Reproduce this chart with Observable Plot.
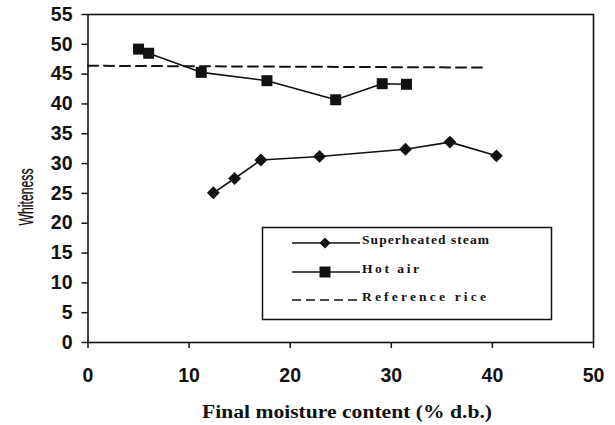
<!DOCTYPE html>
<html><head><meta charset="utf-8">
<script src="https://cdn.jsdelivr.net/npm/d3@7"></script>
<script src="https://cdn.jsdelivr.net/npm/@observablehq/plot@0.6"></script>
<style>
body{margin:0;background:#fff;}
#wrap{position:relative;width:615px;height:425px;}
</style></head><body><div id="wrap"></div>
<script>
// Data
const steamX = [12.4, 14.5, 17.1, 22.9, 31.4, 35.8, 40.4];
const steamY = [25.1, 27.5, 30.6, 31.2, 32.4, 33.6, 31.3];
const airX = [5.0, 6.0, 11.2, 17.7, 24.5, 29.1, 31.5];
const airY = [49.2, 48.5, 45.3, 43.9, 40.7, 43.4, 43.3];
const refX = [0, 39.5];
const refY = [46.4, 46.1];
const xTicks = [0, 10, 20, 30, 40, 50];
const yTicks = [0, 5, 10, 15, 20, 25, 30, 35, 40, 45, 50, 55];
const seriesNames = ["Superheated steam", "Hot air", "Reference rice"];
const xLabel = "Final moisture content (% d.b.)";
const yLabel = "Whiteness";

const steam = steamX.map((x, i) => ({x, y: steamY[i]}));
const air = airX.map((x, i) => ({x, y: airY[i]}));
const ref = refX.map((x, i) => ({x, y: refY[i]}));

const ink = "#111";
const plot = Plot.plot({
  width: 615, height: 425,
  marginLeft: 87.5, marginRight: 22, marginTop: 14, marginBottom: 83,
  x: {domain: [0, 50]},
  y: {domain: [0, 55]},
  style: {fontFamily: "'Liberation Sans', Arial, sans-serif", background: "#fff", color: ink, overflow: "visible"},
  marks: [
    Plot.frame({stroke: ink, strokeWidth: 1.6}),
    Plot.axisX({ticks: xTicks, tickSize: 6, tickPadding: 20, fontSize: 19.5, fontWeight: "bold", label: null, strokeWidth: 1.5}),
    Plot.axisY({ticks: yTicks, tickSize: 6, tickPadding: 9.5, fontSize: 19.5, fontWeight: "bold", label: null, strokeWidth: 1.5}),
    Plot.line(ref, {x: "x", y: "y", stroke: ink, strokeWidth: 2, strokeDasharray: "10,6"}),
    Plot.line(steam, {x: "x", y: "y", stroke: ink, strokeWidth: 1.6}),
    Plot.dot(steam, {x: "x", y: "y", symbol: "diamond2", r: 5.8, fill: ink, stroke: "none"}),
    Plot.line(air, {x: "x", y: "y", stroke: ink, strokeWidth: 1.6}),
    Plot.dot(air, {x: "x", y: "y", symbol: "square", r: 6.2, fill: ink, stroke: "none"})
  ]
});
document.getElementById("wrap").appendChild(plot);

const svg = d3.select(plot);
// Axis titles
svg.append("text").text(yLabel)
  .attr("transform", "translate(32.5,197) rotate(-90)")
  .attr("text-anchor", "middle")
  .attr("font-family", "'Liberation Sans', Arial, sans-serif")
  .attr("font-size", 20).attr("textLength", 57).attr("lengthAdjust", "spacingAndGlyphs")
  .attr("stroke", ink).attr("stroke-width", 0.3)
  .attr("fill", ink);
svg.append("text").text(xLabel)
  .attr("x", 202).attr("y", 418)
  .attr("text-anchor", "start")
  .attr("font-family", "'Liberation Serif', 'Times New Roman', serif")
  .attr("font-weight", "bold").attr("font-size", 18.5)
  .attr("textLength", 290).attr("lengthAdjust", "spacingAndGlyphs")
  .attr("fill", ink);

// Legend
const lg = svg.append("g").attr("class", "legend");
lg.append("rect").attr("x", 262.5).attr("y", 227.5).attr("width", 289).attr("height", 92)
  .attr("fill", "#fff").attr("stroke", ink).attr("stroke-width", 1.5);
const rowY = [243, 272, 300];
const textW = [127, 57, 124];
const symbols = [d3.symbolDiamond2, d3.symbolSquare, null];
const symSize = [80, 120, 0];
seriesNames.forEach((name, i) => {
  const y = rowY[i];
  lg.append("line").attr("x1", 292).attr("x2", 360).attr("y1", y).attr("y2", y)
    .attr("stroke", ink).attr("stroke-width", i === 2 ? 1.6 : 1.4)
    .attr("stroke-dasharray", i === 2 ? "9,5" : null);
  if (symbols[i]) {
    lg.append("path").attr("d", d3.symbol(symbols[i], symSize[i])())
      .attr("transform", `translate(325,${y})`).attr("fill", ink);
  }
  lg.append("text").attr("x", 362).attr("y", y + 1).text(name)
    .attr("text-anchor", "start")
    .attr("font-family", "'Liberation Serif', 'Times New Roman', serif")
    .attr("font-weight", "bold").attr("font-size", 13.5)
    .attr("textLength", textW[i]).attr("lengthAdjust", "spacing")
    .attr("fill", ink);
});
</script>
</body></html>
